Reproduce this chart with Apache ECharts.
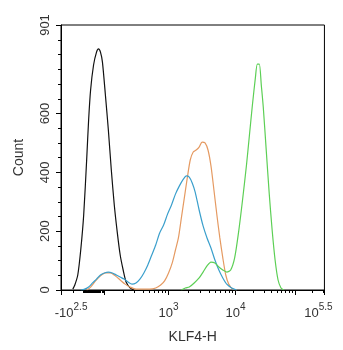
<!DOCTYPE html>
<html>
<head>
<meta charset="utf-8">
<script src="https://cdn.jsdelivr.net/npm/echarts@6/dist/echarts.min.js"></script>
<style>
  html, body { margin: 0; padding: 0; background: #fff; }
  #chart { width: 343px; height: 350px; }
</style>
</head>
<body>
<div id="chart"></div>
<script>
// x is a display channel (0..267) of a logicle-like scale, y is Count
const yMax = 901;
const yLabelVals = [0, 200, 400, 600, 901];

// scale anchors: fluorescence value -> display channel
const linearZero = 33, linearSlope = 0.104;
const decadeAnchors = [[100, 43.4], [1e3, 109], [1e4, 177], [1e5, 237], [Math.pow(10, 5.5), 267]];

const xLabelVals = [-Math.pow(10, 2.5), 1e3, 1e4, Math.pow(10, 5.5)];
const xLabelText = ['{p| }{b|-10}{s|2.5}', '{b|10}{s|3}', '{b|10}{s|4}', '{b|10}{s|5.5}{q| }'];
const xMajorVals = [-Math.pow(10, 2.5), 100, 1e3, 1e4, 1e5, Math.pow(10, 5.5)];

// [channel, count]
const blackCurve = [[12,3],[14,17],[17,51],[20,136],[23,255],[26,442],[28,578],[30,680],[33,765],[36,809],[38,820],[40,809],[42,775],[45,663],[48,544],[51,408],[54,289],[57,197],[60,119],[63,68],[66,27],[70,7],[74,0]];
const blueCurve = [[20,0],[24,3],[28,10],[32,24],[36,37],[40,51],[44,58],[48,61],[52,58],[56,51],[60,44],[64,37],[68,27],[72,20],[76,24],[80,37],[84,58],[88,85],[92,119],[96,153],[100,194],[104,221],[108,258],[112,289],[116,326],[120,354],[124,377],[127,388],[130,384],[133,364],[136,333],[140,272],[144,218],[148,177],[152,143],[156,102],[160,68],[164,41],[168,20],[173,7],[178,0]];
const orangeCurve = [[26,0],[30,10],[35,31],[40,48],[45,58],[50,58],[55,48],[60,34],[65,20],[70,10],[76,3],[82,3],[90,3],[96,7],[101,17],[105,31],[109,58],[113,95],[116,136],[119,177],[122,245],[125,313],[128,381],[131,442],[134,469],[137,476],[140,486],[143,503],[146,500],[149,476],[152,422],[155,340],[158,255],[161,177],[164,109],[167,51],[170,20],[174,3],[178,0]];
const greenCurve = [[122,0],[126,7],[130,10],[135,24],[140,41],[144,61],[148,82],[152,95],[156,92],[160,78],[164,68],[168,61],[172,68],[176,109],[180,197],[184,306],[188,425],[191,527],[194,629],[197,721],[199,768],[201,768],[203,697],[205,622],[208,476],[211,330],[214,204],[217,102],[220,34],[223,7],[226,0]];

function toChannel(v) {
  if (v <= decadeAnchors[0][0]) return linearZero + v * linearSlope;
  for (let i = 1; i < decadeAnchors.length; i++) {
    const a = decadeAnchors[i - 1], b = decadeAnchors[i];
    if (v <= b[0] * 1.0001) {
      const t = (Math.log10(v) - Math.log10(a[0])) / (Math.log10(b[0]) - Math.log10(a[0]));
      return a[1] + t * (b[1] - a[1]);
    }
  }
  return decadeAnchors[decadeAnchors.length - 1][1];
}

const xMinorVals = [-200];
for (let v = -100; v <= 100; v += 10) xMinorVals.push(v);
[100, 1000, 10000].forEach(d => { for (let k = 2; k <= 9; k++) xMinorVals.push(k * d); });
xMinorVals.push(200000, 300000);

const yMinorVals = [];
for (let v = 50; v < yMax; v += 50) if (yLabelVals.indexOf(v) < 0) yMinorVals.push(v);

const xMin = 0, xMax = toChannel(Math.pow(10, 5.5));
const labelChannels = xLabelVals.map(toChannel);

const chart = echarts.init(document.getElementById('chart'), null, { renderer: 'canvas' });

const lineSeries = (data, color) => ({
  type: 'line', data, showSymbol: false, smooth: 0.25,
  lineStyle: { color, width: 1.2 }, xAxisIndex: 0, yAxisIndex: 0, animation: false
});

chart.setOption({
  animation: false,
  grid: { left: 61, top: 25, right: 15, bottom: 60, show: true, borderColor: '#000', borderWidth: 1 },
  xAxis: [{
    type: 'value', position: 'bottom', min: xMin, max: xMax,
    name: 'KLF4-H', nameLocation: 'middle', nameGap: 40,
    nameTextStyle: { fontFamily: 'Liberation Sans', fontSize: 14, color: '#333' },
    splitLine: { show: false },
    axisLine: { lineStyle: { color: '#000', width: 1 } },
    axisTick: { customValues: xMajorVals.map(toChannel), length: 5, lineStyle: { color: '#000' } },
    axisLabel: {
      customValues: labelChannels, margin: 12,
      formatter: value => {
        let best = 0;
        labelChannels.forEach((c, i) => { if (Math.abs(c - value) < Math.abs(labelChannels[best] - value)) best = i; });
        return xLabelText[best];
      },
      rich: {
        b: { fontFamily: 'Liberation Sans', fontSize: 13, color: '#333', lineHeight: 18, verticalAlign: 'bottom' },
        s: { fontFamily: 'Liberation Sans', fontSize: 10, color: '#333', lineHeight: 10, verticalAlign: 'top' },
        p: { width: 20, fontSize: 10 },
        q: { width: 12, fontSize: 10 }
      }
    }
  }, {
    type: 'value', position: 'bottom', min: xMin, max: xMax,
    splitLine: { show: false }, axisLine: { show: false }, axisLabel: { show: false },
    axisTick: { customValues: xMinorVals.map(toChannel), length: 3, lineStyle: { color: '#000' } }
  }],
  yAxis: [{
    type: 'value', position: 'left', min: 0, max: yMax,
    name: 'Count', nameLocation: 'middle', nameGap: 35, nameRotate: 90,
    nameTextStyle: { fontFamily: 'Liberation Sans', fontSize: 14, color: '#333' },
    splitLine: { show: false },
    axisLine: { lineStyle: { color: '#000', width: 1 } },
    axisTick: { customValues: yLabelVals, length: 5, lineStyle: { color: '#000' } },
    axisLabel: { customValues: yLabelVals, rotate: 90, margin: 9, fontFamily: 'Liberation Sans', fontSize: 13, color: '#333' }
  }, {
    type: 'value', position: 'left', min: 0, max: yMax,
    splitLine: { show: false }, axisLine: { show: false }, axisLabel: { show: false },
    axisTick: { customValues: yMinorVals, length: 3, lineStyle: { color: '#000' } }
  }],
  series: [
    lineSeries(blackCurve, '#111111'),
    lineSeries(orangeCurve, '#e59a62'),
    lineSeries(blueCurve, '#3a9fcc'),
    lineSeries(greenCurve, '#5ccf55')
  ]
});
</script>
</body>
</html>
